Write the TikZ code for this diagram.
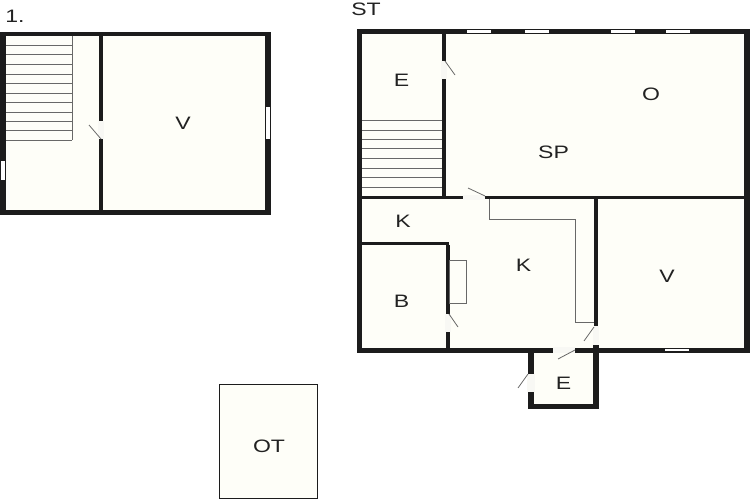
\documentclass[tikz,border=0pt]{standalone}
\usepackage{fontspec}
\setmainfont[FakeStretch=1.28]{Liberation Sans}

\begin{document}
\begin{tikzpicture}[x=1pt,y=-1pt,
    room/.style={fill=roomcol},
    wall/.style={fill=wallcol},
    gap/.style={fill=gapcol},
    window/.style={fill=white},
    stairline/.style={draw=linecol,line width=.9pt},
    leaf/.style={draw=linecol,line width=.8pt},
    fixture/.style={draw=linecol,line width=.9pt},
    label/.style={font=\fontsize{18}{20}\selectfont,text=labelcol,inner sep=0pt}]
  \definecolor{roomcol}{HTML}{FEFEF8}
  \definecolor{wallcol}{HTML}{1C1C1C}
  \definecolor{gapcol}{HTML}{F8F8F4}
  \definecolor{linecol}{HTML}{686868}
  \definecolor{labelcol}{HTML}{222222}
  \useasboundingbox (0,0) rectangle (750,500);

  % upper floor
  \fill[room] (0,32) rectangle (271,215);
  \fill[wall] (0,32) rectangle (271,36);
  \fill[wall] (0,210) rectangle (271,215);
  \fill[wall] (0,32) rectangle (6,215);
  \fill[wall] (265,32) rectangle (271,215);
  \fill[wall] (99,36) rectangle (102.5,210);
  \fill[gap] (98,121) rectangle (103.5,139);
  \fill[window] (266,107) rectangle (270,139);
  \fill[window] (1,161) rectangle (5,180);
  \draw[leaf] (89,125) -- (101,139);
  \draw[stairline] (72,36) -- (72,140);
  \foreach \y in {45.3,54.8,64.3,74,83.3,93,102.3,112,121.3,130.7,140.3}
    \draw[stairline] (6,\y) -- (72,\y);

  % ground floor
  \fill[room] (357,29) rectangle (750,352);
  \fill[room] (528,348) rectangle (598,409);
  \fill[wall] (357,29) rectangle (750,34);
  \fill[wall] (357,348) rectangle (750,352.5);
  \fill[wall] (357,29) rectangle (362,352.5);
  \fill[wall] (744,29) rectangle (750,352.5);
  \fill[wall] (442,34) rectangle (445.5,199);
  \fill[wall] (362,196) rectangle (745,199);
  \fill[wall] (594,199) rectangle (597.5,348);
  \fill[wall] (362,242) rectangle (449,245);
  \fill[wall] (446,245) rectangle (449.5,348);
  \fill[wall] (528,348) rectangle (534,409);
  \fill[wall] (593,345) rectangle (598.5,409);
  \fill[wall] (528,404) rectangle (598.5,409);

  % door openings
  \fill[gap] (441,61) rectangle (446.5,79);
  \fill[gap] (463,195) rectangle (485,200);
  \fill[gap] (445,314) rectangle (450.5,332);
  \fill[gap] (593,326) rectangle (598.5,345);
  \fill[gap] (553,347) rectangle (575,353);
  \fill[gap] (527,374) rectangle (535,392);
  \draw[leaf] (445,61) -- (455,75);
  \draw[leaf] (468,188) -- (485,196);
  \draw[leaf] (449,314) -- (458,327);
  \draw[leaf] (594,327) -- (584,341);
  \draw[leaf] (575,350) -- (558,359);
  \draw[leaf] (528,374) -- (518,388);

  % windows
  \foreach \xa/\xb in {467/491,525/549,611/635,666/690}
    \fill[window] (\xa,30) rectangle (\xb,33);
  \fill[window] (665,349) rectangle (689,351);

  % stairs, counter and hearth
  \foreach \y in {120,130,139.7,148.7,158.7,168,177.7,187}
    \draw[stairline] (362,\y) -- (442,\y);
  \draw[fixture] (489,199) -- (489,219) -- (575,219) -- (575,322) -- (594,322);
  \draw[fixture] (449,260) rectangle (466,303);

  % outbuilding
  \draw[fill=roomcol,draw=wallcol,line width=1.8pt] (219.5,384.5) rectangle (317.5,498.5);

  \node[label] (upper title) at (15,16) {1.};
  \node[label] (ground title) at (366,9.5) {ST};
  \node[label] (upper living) at (183,123) {V};
  \node[label] (entry) at (401.5,80) {E};
  \node[label] (dining) at (553.5,152) {SP};
  \node[label] (lounge) at (651,94) {O};
  \node[label] (kitchen corner) at (403,221) {K};
  \node[label] (kitchen) at (523.5,265) {K};
  \node[label] (bath) at (401.5,301) {B};
  \node[label] (living) at (667,276) {V};
  \node[label] (porch) at (563.5,383) {E};
  \node[label] (shed) at (269,446) {OT};
\end{tikzpicture}
\end{document}
